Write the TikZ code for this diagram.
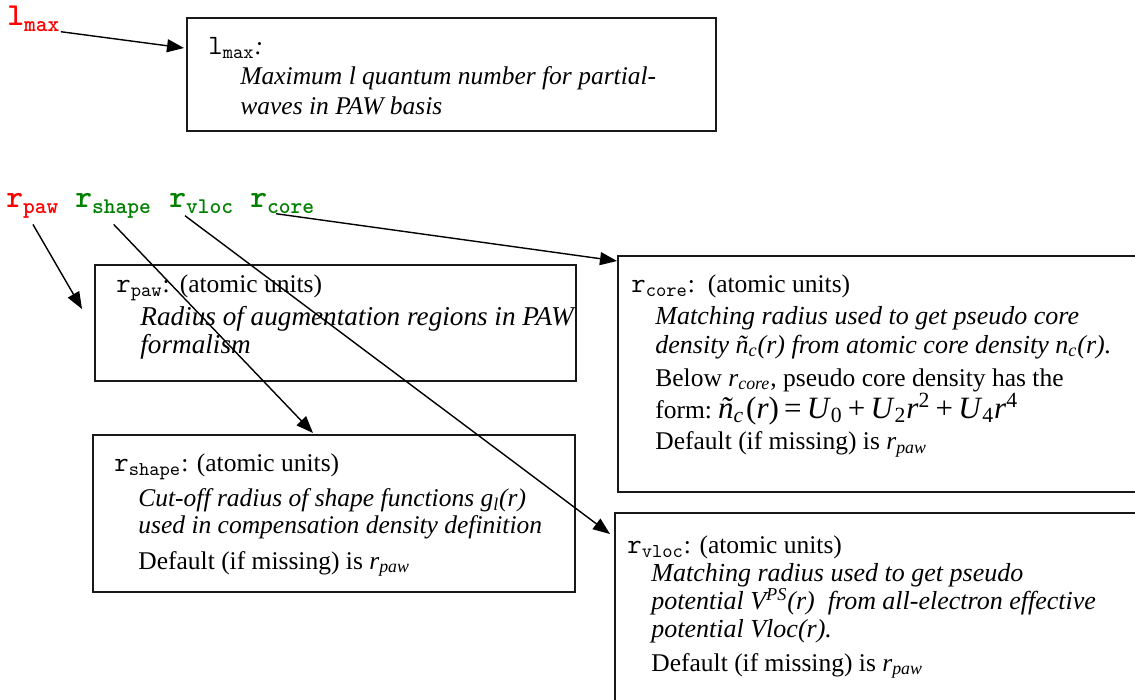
\documentclass[tikz,border=0pt]{standalone}
\usepackage{fontspec}
\setmainfont{Liberation Serif}
\usetikzlibrary{arrows.meta,fit,positioning}

\definecolor{tagred}{RGB}{255,0,0}
\definecolor{taggreen}{RGB}{0,128,0}

\newcommand{\parm}[2]{{\fontsize{14}{14}\selectfont\texttt{#1\textsubscript{#2}}}}
\newcommand{\rsub}[1]{\textit{r}\textsubscript{\textit{#1}}}
\newcommand{\ind}{\hspace*{12pt}}

\tikzset{
  box/.style={draw=black!90, line width=0.65pt, inner sep=0pt},
  txt/.style={anchor=north west, inner sep=0pt, align=left,
    font=\fontsize{12.75}{14}\selectfont},
  tag/.style={anchor=base west, inner sep=0pt,
    font=\fontsize{16}{16}\selectfont\ttfamily\bfseries},
  link/.style={-{Triangle[length=8.5pt,width=6.5pt]}, line width=0.7pt},
}

\begin{document}
\begin{tikzpicture}[x=0.5pt,y=-0.5pt]
  \useasboundingbox (0,0) rectangle (1135,700);
  \clip (0,0) rectangle (1135,700);

  % parameter names
  \node[tag, text=tagred] (lmaxtag) at (7,26) {l\textsubscript{max}};
  \node[tag, text=tagred] (rpawtag) at (6,208) {r\textsubscript{paw}};
  \node[tag, text=taggreen] (rshapetag) at (75,208) {r\textsubscript{shape}};
  \node[tag, text=taggreen] (rvloctag) at (169,208) {r\textsubscript{vloc}};
  \node[tag, text=taggreen] (rcoretag) at (250,208) {r\textsubscript{core}};

  % boxes
  \node[box, fit={(187,18) (716,131)}] (lmaxbox) {};
  \node[box, fit={(95,265) (576,381)}] (rpawbox) {};
  \node[box, fit={(93,435) (575,592)}] (rshapebox) {};
  \node[box, fit={(618,256) (1150,492)}] (rcorebox) {};
  \node[box, fit={(615,513) (1150,715)}] (rvlocbox) {};

  % box texts
  \node[txt, font=\fontsize{12.75}{15}\selectfont] (lmaxtext) at (208,37)
    {\parm{l}{max}\textit{:}\\
     \hspace*{16pt}\textit{Maximum l quantum number for partial-}\\
     \hspace*{16pt}\textit{waves in PAW basis}};
  \node[txt] (rpawtext) at (116,274)
    {\parm{r}{paw}:\hspace{5pt}(atomic units)\\[2.5pt]
     \ind{\fontsize{13.6}{14}\selectfont\textit{Radius of augmentation regions in PAW}}\\
     \ind{\fontsize{13.6}{14}\selectfont\textit{formalism}}};
  \node[txt, font=\fontsize{12.75}{13.5}\selectfont] (rshapetext) at (114,453)
    {\parm{r}{shape}: (atomic units)\\[4pt]
     \ind\textit{Cut-off radius of shape functions g\textsubscript{l}(r)}\\
     \ind\textit{used in compensation density definition}\\[4.5pt]
     \ind Default (if missing) is \rsub{paw}};
  \node[txt, font=\fontsize{12.75}{14.5}\selectfont] (rcoretext) at (631,274)
    {\parm{r}{core}:\ \ (atomic units)\\[1.5pt]
     \ind{\fontsize{13}{14.5}\selectfont\textit{Matching radius used to get pseudo core}}\\
     \ind{\fontsize{13}{14.5}\selectfont\textit{density ñ\textsubscript{c}(r) from atomic core density n\textsubscript{c}(r).}}\\[2pt]
     \ind Below \rsub{core}, pseudo core density has the\\
     \ind form:\hspace{3pt}{\fontsize{15.5}{15}\selectfont\textit{ñ}\textsubscript{\textit{c}}\kern1pt(\textit{r})\,=\,\textit{U}\textsubscript{0}\,+\,\textit{U}\textsubscript{2}\textit{r}\textsuperscript{2}\,+\,\textit{U}\textsubscript{4}\textit{r}\textsuperscript{4}}\\[1pt]
     \ind Default (if missing) is \rsub{paw}};
  \node[txt] (rvloctext) at (627,535)
    {\parm{r}{vloc}: (atomic units)\\
     \ind{\fontsize{13}{14}\selectfont\textit{Matching radius used to get pseudo}}\\
     \ind{\fontsize{13}{14}\selectfont\textit{potential V\textsuperscript{PS}(r)\ \ from all-electron effective}}\\
     \ind{\fontsize{13}{14}\selectfont\textit{potential Vloc(r).}}\\[3pt]
     \ind Default (if missing) is \rsub{paw}};

  % arrow tips
  \coordinate (lmaxtip) at (184,48);
  \coordinate (rpawtip) at (82,309);
  \coordinate (rshapetip) at (313,433);
  \coordinate (rvloctip) at (610,534);
  \coordinate (rcoretip) at (617,261);

  % arrows
  \draw[link] (lmaxtag.south east) -- (lmaxtip);
  \draw[link] ([yshift=-3pt]rpawtag.south) -- (rpawtip);
  \draw[link] ([yshift=-3pt]rshapetag.south) -- (rshapetip);
  \draw[link] ([xshift=8pt,yshift=-1pt]rvloctag.south west) -- (rvloctip);
  \draw[link] ([xshift=13pt]rcoretag.south west) -- (rcoretip);
\end{tikzpicture}
\end{document}
